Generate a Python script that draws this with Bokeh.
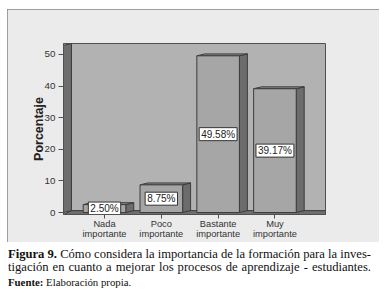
from bokeh.plotting import figure
from bokeh.layouts import column
from bokeh.models import FixedTicker, Range1d, Div
from bokeh.core.properties import value
from bokeh.embed import file_html
from bokeh.resources import INLINE

# ---- data ----
categories = ["Nada\nimportante", "Poco\nimportante", "Bastante\nimportante", "Muy\nimportante"]
percentages = [2.50, 8.75, 49.58, 39.17]
label_texts = ["2.50%", "8.75%", "49.58%", "39.17%"]
y_ticks = [0, 10, 20, 30, 40, 50]
caption_bold = "Figura 9."
caption_line1 = "Cómo considera la importancia de la formación para la inves-"
caption_line2 = "tigación en cuanto a mejorar los procesos de aprendizaje - estudiantes."
source_bold = "Fuente:"
source_text = "Elaboración propia."

# ---- styling constants ----
SANS = "Liberation Sans"
SERIF = "Liberation Serif"
BOX_FILL = "#ebebeb"
WALL = "#b2b2b2"
WALL_DARK = "#6e6e6e"
BAR_FRONT = "#a6a6a6"
BAR_SIDE = "#6c6c6c"
EDGE = "#3c3c3c"

xs = list(range(1, len(categories) + 1))
X0, X1 = 0.278, 4.89
Y0, Y1 = -0.63, 53.48
HW = 0.375          # half bar width
DX, DY = 0.14, 0.6  # 3D depth in data units

p = figure(width=372, height=233, output_backend="svg", toolbar_location=None,
           x_range=Range1d(X0, X1), y_range=Range1d(Y0, Y1),
           min_border_left=56, min_border_right=54, min_border_top=34, min_border_bottom=28,
           margin=(9, 9, 0, 7))
p.border_fill_color = BOX_FILL
p.background_fill_color = WALL
p.outline_line_color = "#505050"
p.outline_line_width = 1
p.xgrid.visible = False
p.ygrid.visible = False
p.styles = {"outline": "2px solid #858585", "outline-offset": "-2px"}

# floor band and left wall
p.patch([X0, X0 + DX, X1, X1], [Y0, DY, DY, Y0], fill_color=WALL_DARK, line_color=EDGE, line_width=1)
p.patch([X0, X0 + DX, X0 + DX, X0], [0, DY, Y1, Y1 - DY], fill_color=WALL_DARK, line_color=EDGE, line_width=1)

# bar side and top faces (from data)
side_x, side_y, top_x, top_y = [], [], [], []
for c, v in zip(xs, percentages):
    side_x.append([c + HW, c + HW + DX, c + HW + DX, c + HW])
    side_y.append([0, DY, v + DY, v])
    top_x.append([c - HW, c - HW + DX, c + HW + DX, c + HW])
    top_y.append([v, v + DY, v + DY, v])
p.patches(side_x, side_y, fill_color=BAR_SIDE, line_color=EDGE, line_width=1)
p.patches(top_x, top_y, fill_color="#8a8a8a", line_color=EDGE, line_width=1)
p.vbar(x=xs, top=percentages, bottom=0, width=2 * HW, fill_color=BAR_FRONT, line_color=EDGE, line_width=1)

# value labels
p.text(x=xs, y=[v / 2 for v in percentages], text=label_texts,
       text_font=value(SANS), text_font_size="10px", text_color="#222222",
       text_align="center", text_baseline="middle",
       background_fill_color="white", border_line_color="#333333", border_line_width=1, padding=(2, 1))

# axes
p.yaxis.ticker = FixedTicker(ticks=y_ticks)
p.yaxis.axis_label = "Porcentaje"
p.yaxis.axis_label_text_font = SANS
p.yaxis.axis_label_text_font_style = "bold"
p.yaxis.axis_label_text_font_size = "12.5px"
p.yaxis.axis_label_text_color = "#222222"
p.yaxis.axis_label_standoff = -4
p.yaxis.major_label_text_font = SANS
p.yaxis.major_label_text_font_size = "9.8px"
p.yaxis.major_label_text_color = "#333333"
p.yaxis.major_label_standoff = 3
p.yaxis.major_tick_out = 5
p.yaxis.major_tick_in = 0
p.yaxis.minor_tick_line_color = None
p.yaxis.axis_line_color = "#505050"
p.yaxis.major_tick_line_color = "#505050"

p.xaxis.ticker = FixedTicker(ticks=xs)
p.xaxis.major_label_overrides = {x: c for x, c in zip(xs, categories)}
p.xaxis.major_label_text_font = SANS
p.xaxis.major_label_text_font_size = "9.3px"
p.xaxis.major_label_text_color = "#333333"
p.xaxis.major_label_text_line_height = 1.05
p.xaxis.major_label_standoff = 0
p.xaxis.major_tick_out = 4
p.xaxis.major_tick_in = 0
p.xaxis.minor_tick_line_color = None
p.xaxis.axis_line_color = "#505050"
p.xaxis.major_tick_line_color = "#505050"

# caption
ff = f"font-family: '{SERIF}', serif;"
caption_html = (
    f'<div style="{ff} color: #111111; font-size: 12.6px; line-height: 12.5px; '
    'text-align: justify; text-align-last: justify; white-space: nowrap;">'
    f'<b style="{ff}">{caption_bold}</b> {caption_line1}<br>{caption_line2}</div>'
    f'<div style="{ff} color: #111111; font-size: 10.8px; line-height: 12px; margin-top: 3px; white-space: nowrap;">'
    f'<b style="{ff} font-size: 10.8px;">{source_bold}</b> '
    f'<span style="{ff} font-size: 10.8px;">{source_text}</span></div>'
)
cap = Div(text=caption_html, width=372, margin=(6, 8, 0, 8),
          styles={"font-family": f"'{SERIF}', serif", "color": "#111111"})

layout = column(p, cap, spacing=0)
open("out.html", "w").write(file_html(layout, INLINE))
